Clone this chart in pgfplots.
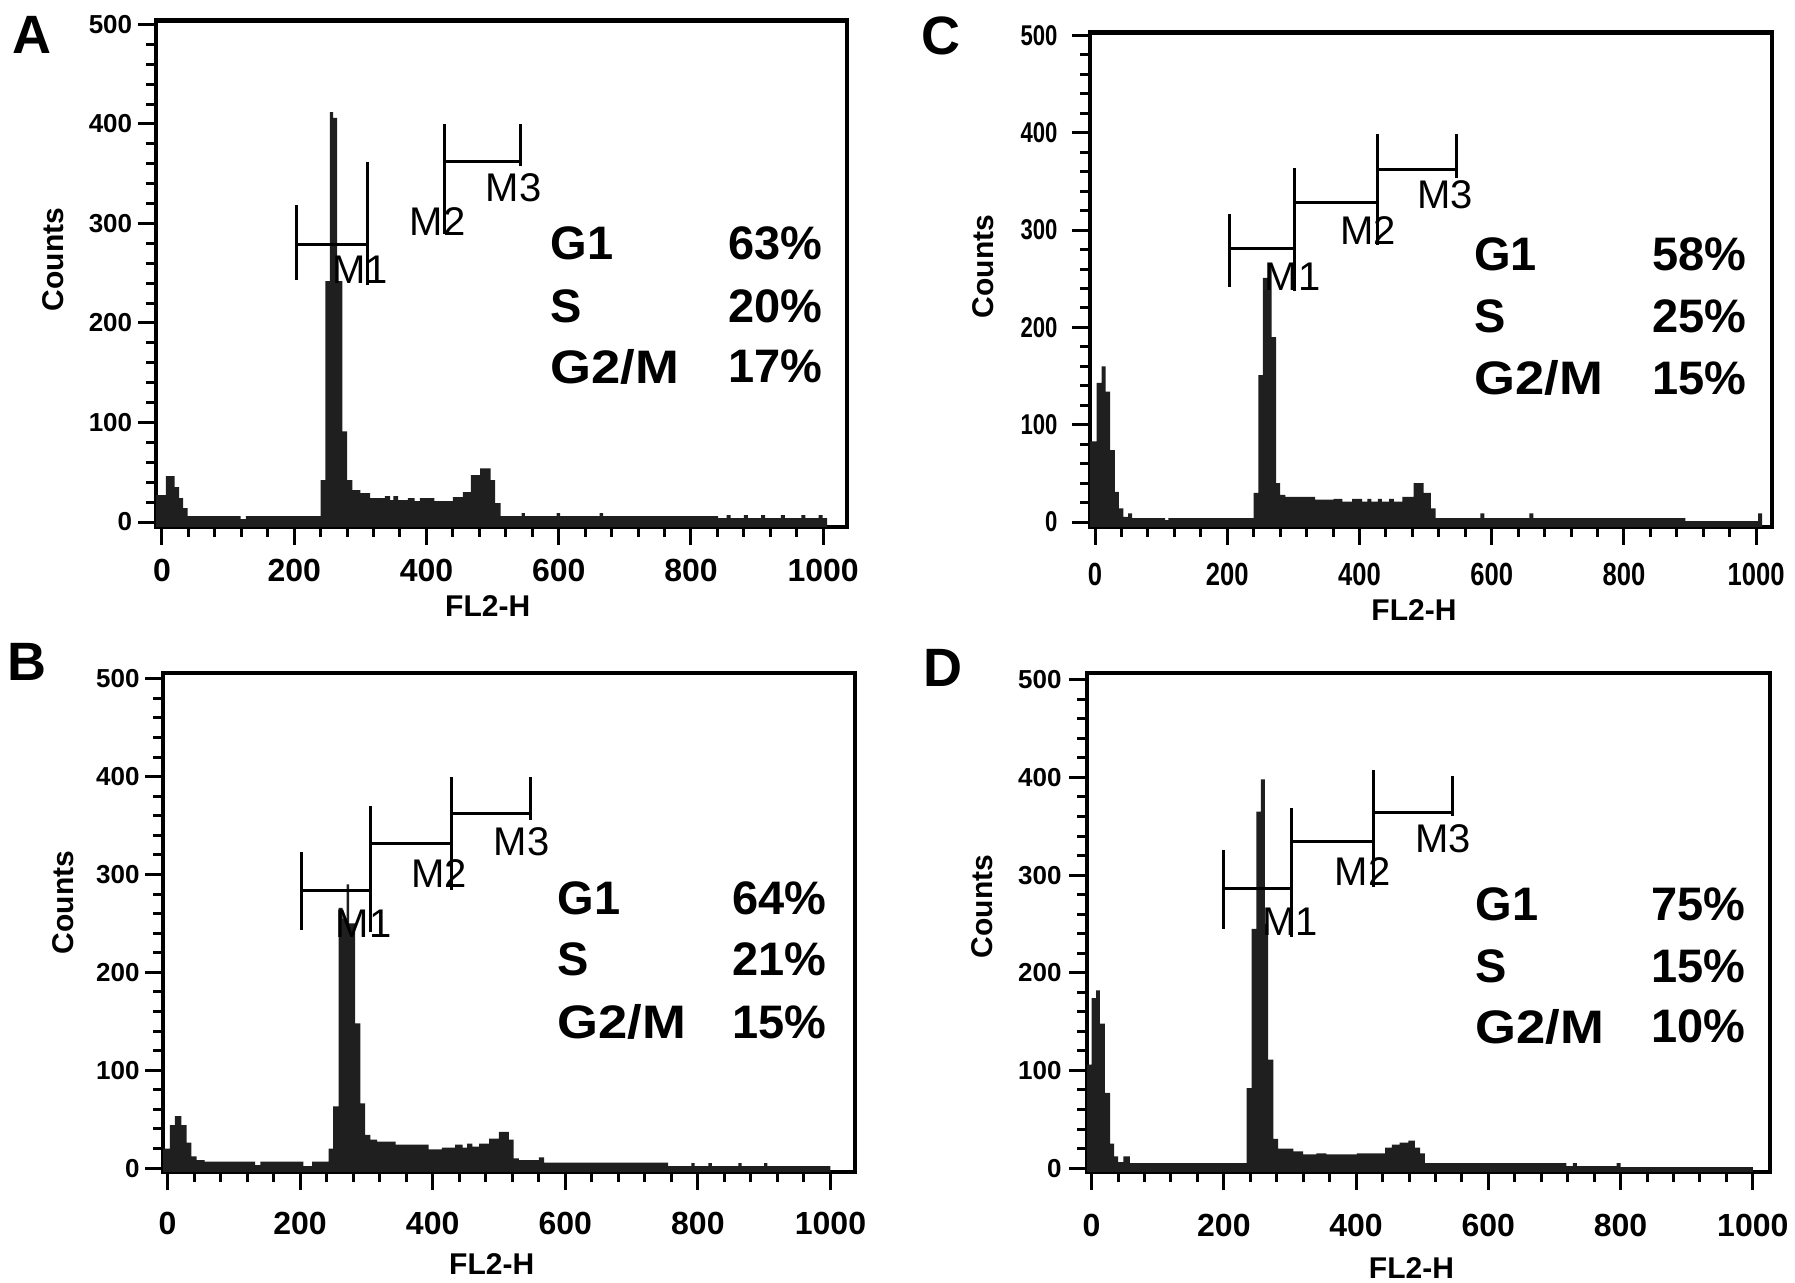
\documentclass[border=0pt]{standalone}
\usepackage{fontspec}
\setmainfont{Liberation Sans}
\usepackage{pgfplots}
\pgfplotsset{compat=1.18}

\pgfplotsset{
  facs/.style={
    scale only axis, anchor=south west,
    xtick={0,200,...,1000}, ytick={0,100,...,500},
    minor x tick num=4, minor y tick num=4,
    tick align=outside, tick pos=left,
    major tick length=9pt, minor tick length=5pt,
    tick style={black, line width=1.5pt},
    axis line style={line width=2.4pt},
    /pgf/number format/assume math mode=true,
    /pgf/number format/1000 sep={},
    yticklabel style={font=\bfseries\fontsize{13}{15}\selectfont},
    xticklabel style={font=\bfseries\fontsize{16}{18}\selectfont},
    ylabel=Counts, xlabel=FL2-H,
    label style={font=\bfseries\fontsize{15}{17}\selectfont},
    ylabel style={anchor=center},
    xlabel style={anchor=center},
  },
  hist/.style={const plot, fill=black!88, draw=none},
  gate/.style={black, line width=1.5pt, unbounded coords=jump},
}
\tikzset{
  panel/.style={font=\bfseries\fontsize{27}{29}\selectfont},
  big/.style={font=\bfseries\fontsize{23.5}{26}\selectfont, inner sep=0pt},
  mlab/.style={font=\fontsize{20}{22}\selectfont, inner sep=0pt},
}
\newcommand{\gm}{\scalebox{1.12}[1]{G2/M}}

\begin{document}
\begin{tikzpicture}
\path[use as bounding box] (0,0) rectangle (897.5pt,641.5pt);

% ---------------- A ----------------
\begin{axis}[facs, at={(78pt,378pt)}, width=345.5pt, height=253.25pt,
  xmin=-9, xmax=1036, ymin=-5, ymax=504,
  yticklabel shift=-0.6pt, xticklabel shift=3.5pt,
  ylabel style={at={(axis description cs:-0.149,0.528)}},
  xlabel style={at={(axis description cs:0.48,0)}, yshift=-39.7pt}]
\addplot[hist] coordinates {
  (-10,-10) (-9,27) (6,46) (19,35) (26,24) (32,14) (39,6) (119,3) (127,6)
  (240,42) (247,242) (254,412) (259,406) (265,242) (273,91) (280,42)
  (288,32) (300,29) (315,24) (337,26) (345,22) (350,26) (357,22) (372,24)
  (382,21) (390,24) (412,21) (440,25) (455,30) (467,47) (481,54) (497,42)
  (504,19) (512,6) (544,9) (549,6) (597,9) (602,6) (662,9) (667,6)
  (841,4) (854,7) (860,4) (880,7) (886,4) (906,7) (912,4) (936,7) (942,4)
  (967,7) (973,4) (993,7) (999,4) (1006,-10) };
\addplot[gate] coordinates {(203,243) (203,319) (203,nan) (203,279) (310.5,279)
  (310.5,nan) (310.5,238) (310.5,362)};
\addplot[gate] coordinates {(428,289) (428,400) (428,nan) (428,362.5) (542,362.5)
  (542,nan) (542,358) (542,400)};
\node[mlab] at (axis cs:300,254) {M1};
\node[mlab] at (axis cs:417,302) {M2};
\node[mlab] at (axis cs:532,336) {M3};
\node[big, anchor=west] at (axis cs:587,280) {G1};
\node[big, anchor=west] at (axis cs:587,217) {S};
\node[big, anchor=west] at (axis cs:587,156) {\gm};
\node[big, anchor=east] at (axis cs:1000,280) {63\%};
\node[big, anchor=east] at (axis cs:1000,217) {20\%};
\node[big, anchor=east] at (axis cs:1000,156) {17\%};
\end{axis}

% ---------------- C ----------------
\begin{axis}[facs, at={(545pt,378pt)}, width=341pt, height=247.25pt,
  xmin=-7.6, xmax=1024, ymin=-5, ymax=503,
  yticklabel shift=3.7pt, xticklabel shift=5.5pt,
  xticklabel={\scalebox{0.8}[1]{\pgfmathprintnumber{\tick}}},
  yticklabel={\scalebox{0.85}[1.1]{\pgfmathprintnumber{\tick}}},
  ylabel style={at={(axis description cs:-0.156,0.527)}},
  xlabel style={at={(axis description cs:0.475,0)}, yshift=-41.5pt}]
\addplot[hist] coordinates {
  (-10,-10) (-8,83) (2.5,143) (10,160) (16,134) (23,74) (30,31) (36,14)
  (43,5.5) (50,9) (56,4) (106,2) (111,4) (240,30) (247,151) (254,251)
  (262,266) (267,190) (274,40) (280,28) (288,26) (333,23) (361,24) (374,21)
  (389,24) (404,21) (412,24) (418,21) (428,24) (434,21) (445,24) (452,21)
  (465,26) (482,40) (497,30) (508,14) (515,4) (583,9) (589,4) (657,9)
  (663,4) (893,1) (1003,9) (1009,-10) };
\addplot[gate] coordinates {(203,242) (203,317) (203,nan) (203,281) (302,281)
  (302,nan) (302,237) (302,364) (302,nan) (302,328.5) (427,328.5)};
\addplot[gate] coordinates {(427,285) (427,399) (427,nan) (427,362) (546,362)
  (546,nan) (546,353) (546,399)};
\node[mlab] at (axis cs:299,252) {M1};
\node[mlab] at (axis cs:413,300) {M2};
\node[mlab] at (axis cs:530,336) {M3};
\node[big, anchor=west] at (axis cs:573,275) {G1};
\node[big, anchor=west] at (axis cs:573,211) {S};
\node[big, anchor=west] at (axis cs:573,148) {\gm};
\node[big, anchor=east] at (axis cs:986,275) {58\%};
\node[big, anchor=east] at (axis cs:986,211) {25\%};
\node[big, anchor=east] at (axis cs:986,148) {15\%};
\end{axis}

% ---------------- B ----------------
\begin{axis}[facs, at={(81.5pt,55.5pt)}, width=346pt, height=249.5pt,
  xmin=-6.8, xmax=1037, ymin=-4, ymax=506,
  yticklabel shift=-0.8pt, xticklabel shift=7.5pt,
  ylabel style={at={(axis description cs:-0.144,0.54)}},
  xlabel style={at={(axis description cs:0.475,0)}, yshift=-46pt}]
\addplot[hist] coordinates {
  (-10,-10) (-6.5,20) (3.5,44) (11,53) (21,44) (29,26) (36,12) (44,8)
  (56,6.5) (132,3) (140,6.5) (205,2) (218,6.5) (243,20) (250,63) (258,266)
  (264,255) (270,290) (274,250) (283,148) (291,66) (298,34) (306,29)
  (316,27) (344,24) (394,19) (414,21) (434,24) (445,21) (452,25) (460,22)
  (470,25) (485,30) (500,37) (515,29) (522,10) (530,8) (560,11) (568,5.5)
  (755,2) (790,5) (795,2) (816,5) (821,2) (861,5) (866,2) (900,5) (905,2)
  (1000,-10) };
\addplot[gate] coordinates {(202.5,243) (202.5,323) (202.5,nan) (202.5,283.5) (306,283.5)
  (306,nan) (306,241) (306,370) (306,nan) (306,332) (429,332)};
\addplot[gate] coordinates {(429,284) (429,400) (429,nan) (429,362) (548,362)
  (548,nan) (548,356) (548,400)};
\node[mlab] at (axis cs:296,250) {M1};
\node[mlab] at (axis cs:410,301) {M2};
\node[mlab] at (axis cs:534,334) {M3};
\node[big, anchor=west] at (axis cs:588,276) {G1};
\node[big, anchor=west] at (axis cs:588,213) {S};
\node[big, anchor=west] at (axis cs:588,149) {\gm};
\node[big, anchor=east] at (axis cs:994,276) {64\%};
\node[big, anchor=east] at (axis cs:994,213) {21\%};
\node[big, anchor=east] at (axis cs:994,149) {15\%};
\end{axis}

% ---------------- D ----------------
\begin{axis}[facs, at={(543.5pt,55.5pt)}, width=341.5pt, height=249.5pt,
  xmin=-7, xmax=1026, ymin=-4, ymax=507,
  yticklabel shift=0.2pt, xticklabel shift=8.5pt,
  ylabel style={at={(axis description cs:-0.153,0.532)}},
  xlabel style={at={(axis description cs:0.475,0)}, yshift=-48pt}]
\addplot[hist] coordinates {
  (-10,-10) (-8,106) (0,174) (6.6,182) (12.6,148) (20,77) (28,25) (34,12)
  (40,6) (48,12) (58,5) (234.5,82) (242,245) (249,365) (256,398) (262,250)
  (267,111) (275,30) (282,20) (305,17) (320,14) (340,15) (355,14) (401,15)
  (444,21) (454,24) (466,26) (479,28) (489,21) (497,15) (504,5) (718,2)
  (728,5) (734,2) (794,5) (800,1) (1000,-10) };
\addplot[gate] coordinates {(200,245) (200,326) (200,nan) (200,286) (302.5,286)
  (302.5,nan) (302.5,237) (302.5,369) (302.5,nan) (302.5,334.7) (427,334.7)};
\addplot[gate] coordinates {(427,287.6) (427,408) (427,nan) (427,364) (546,364)
  (546,nan) (546,361) (546,402)};
\node[mlab] at (axis cs:300,252) {M1};
\node[mlab] at (axis cs:410,304) {M2};
\node[mlab] at (axis cs:532,337) {M3};
\node[big, anchor=west] at (axis cs:580,270) {G1};
\node[big, anchor=west] at (axis cs:580,207) {S};
\node[big, anchor=west] at (axis cs:580,145) {\gm};
\node[big, anchor=east] at (axis cs:989,270) {75\%};
\node[big, anchor=east] at (axis cs:989,207) {15\%};
\node[big, anchor=east] at (axis cs:989,145) {10\%};
\end{axis}

\node[panel] at (16pt,624pt) {A};
\node[panel] at (470.25pt,623.5pt) {C};
\node[panel] at (13.5pt,310.5pt) {B};
\node[panel] at (471.5pt,307.5pt) {D};
\end{tikzpicture}
\end{document}
